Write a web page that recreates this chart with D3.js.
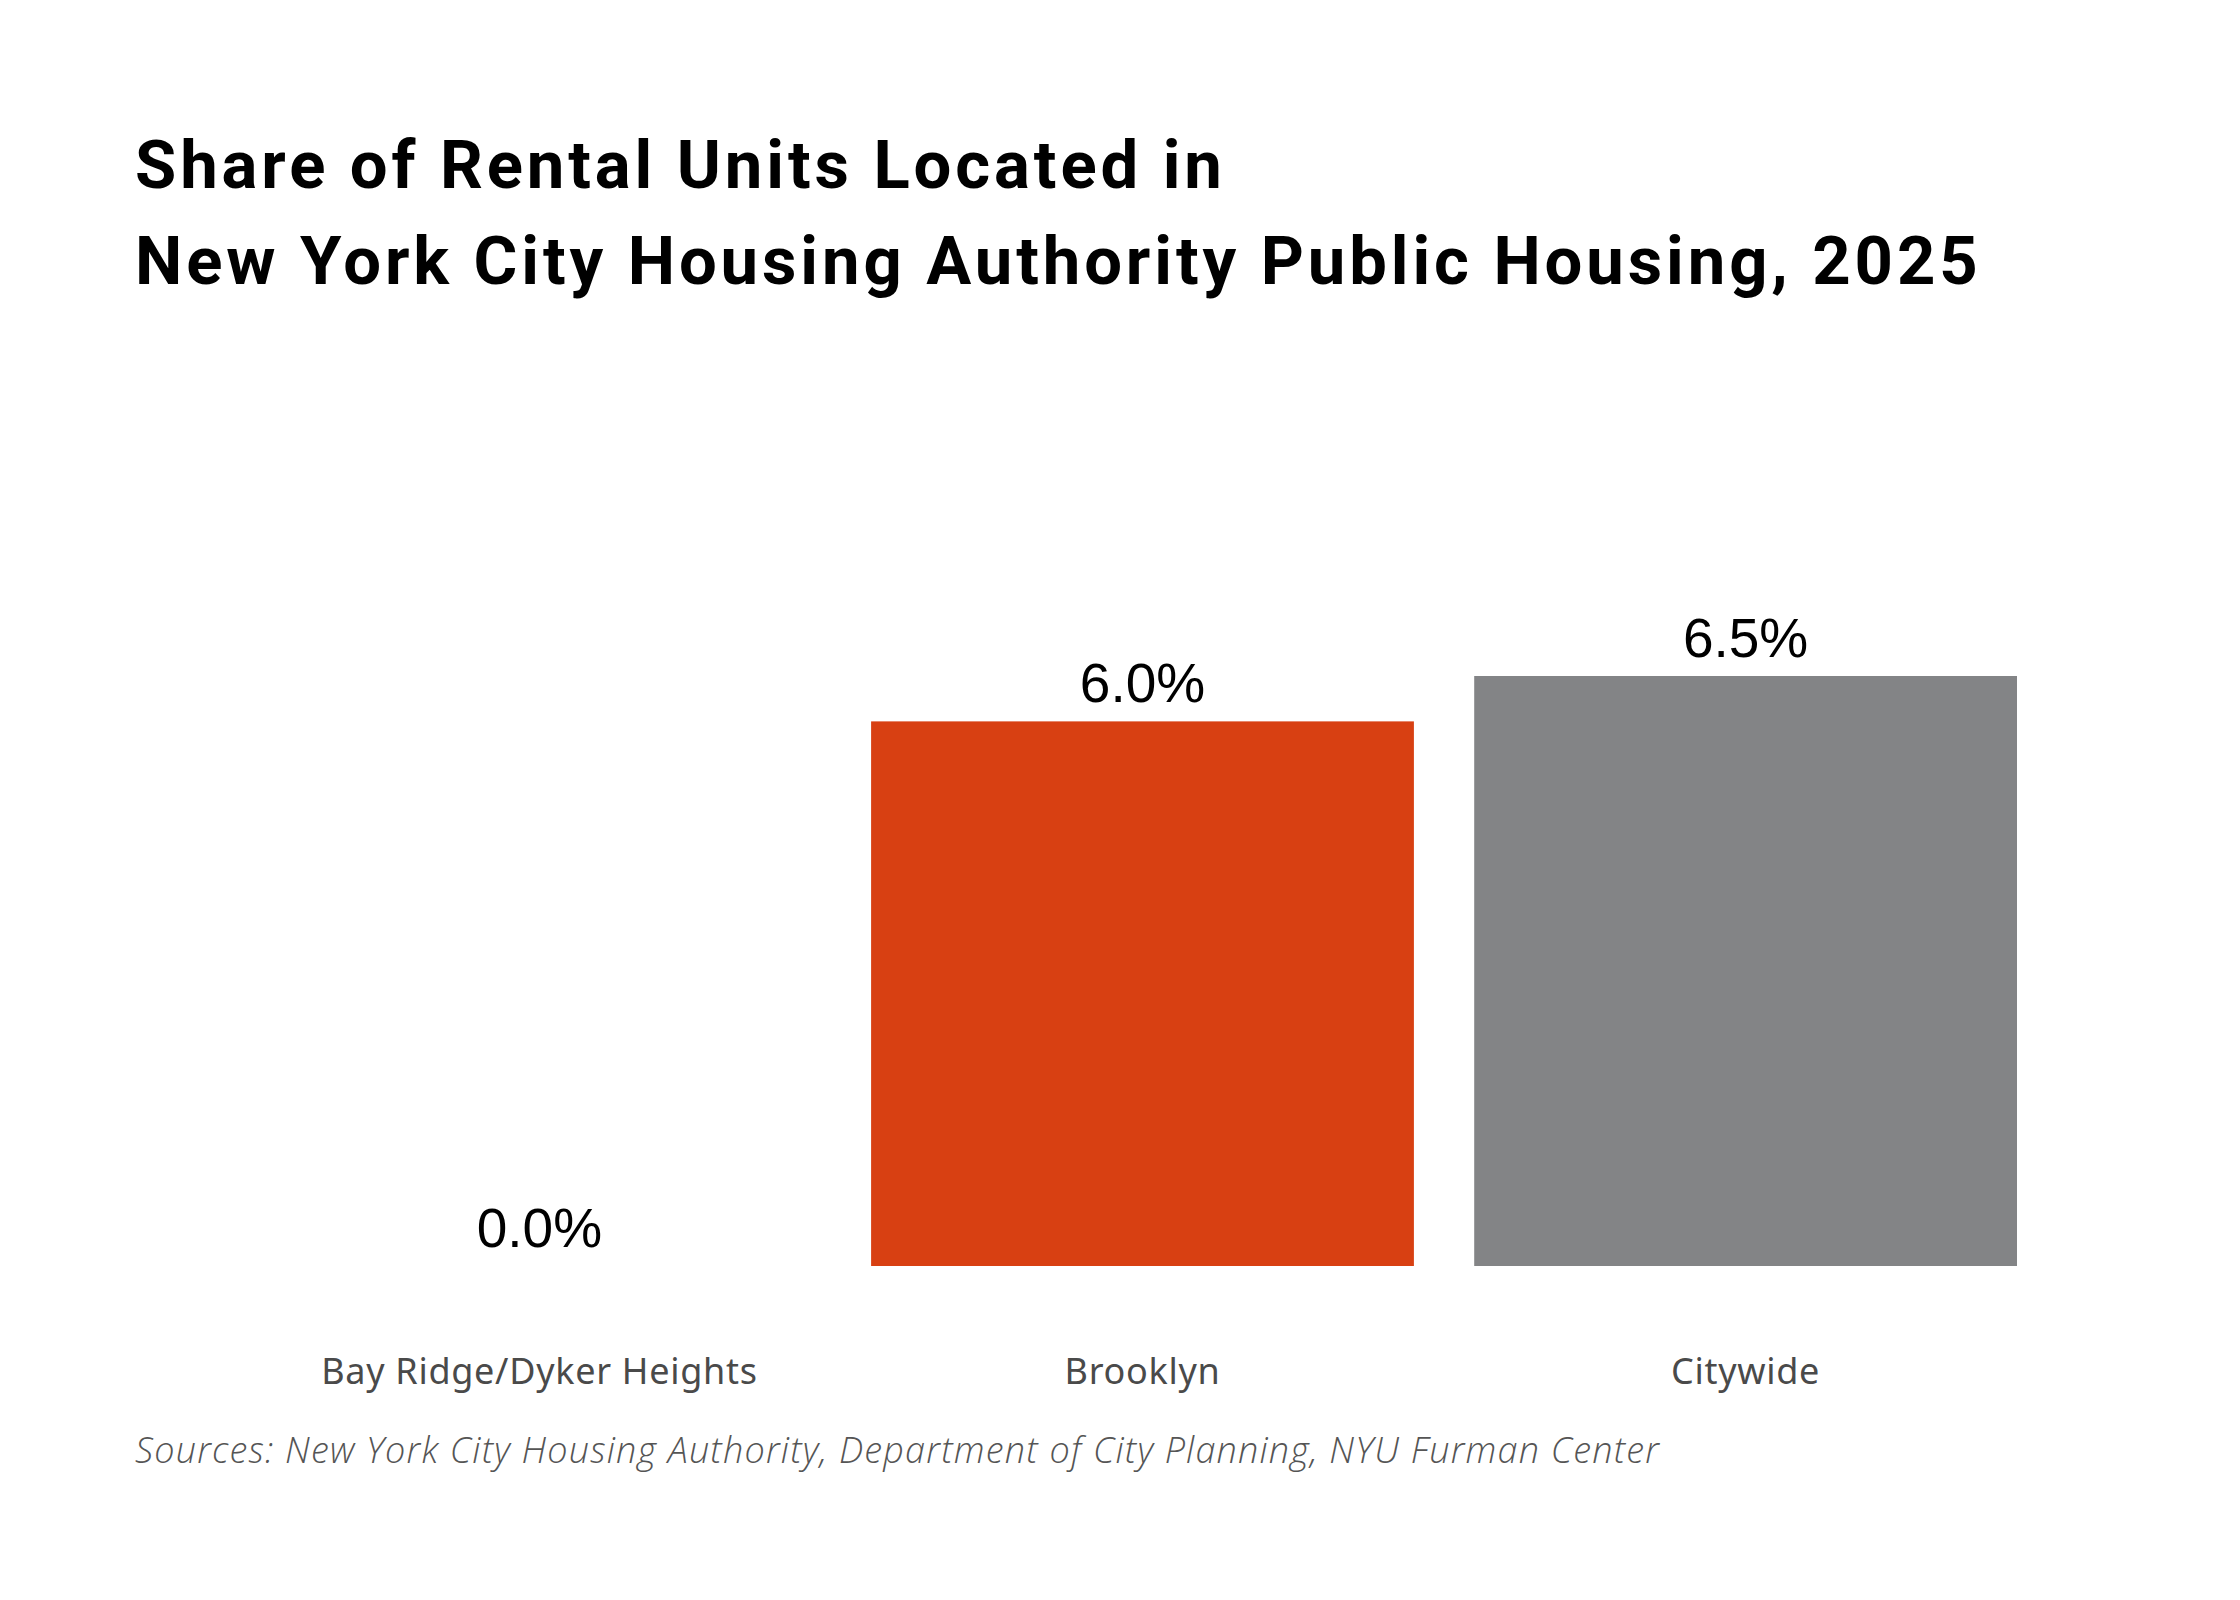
<!DOCTYPE html>
<html>
<head>
<meta charset="utf-8">
<script src="https://cdn.jsdelivr.net/npm/d3@7"></script>
<style>
  body { margin: 0; background: #fff; }
</style>
</head>
<body>
<div id="figure"></div>
<script>
const width = 2240,
      height = 1600;

// Data.
const categories = ["Bay Ridge/Dyker Heights", "Brooklyn", "Citywide"];
const values = [0.0, 6.0, 6.5];
const barColors = ["#d84012", "#d84012", "#838486"];
const titleLines = [
    "Share of Rental Units Located in",
    "New York City Housing Authority Public Housing, 2025"
];
const sourceText = "Sources: New York City Housing Authority, Department of City Planning, NYU Furman Center";

const svg = d3.select("#figure").append("svg")
    .attr("width", width)
    .attr("height", height);

svg.append("rect")
    .attr("width", width)
    .attr("height", height)
    .attr("fill", "#fff");

// Scales.
const xscale = d3.scaleBand()
    .domain(categories)
    .range([268, 2017])
    .paddingInner(0.1)
    .paddingOuter(0);

const yscale = d3.scaleLinear()
    .domain([0, 6.5])
    .range([1266, 676]);

// Title.
svg.append("g")
    .selectAll("text")
    .data(titleLines)
    .join("text")
        .attr("x", 135)
        .attr("y", (d, i) => 188 + i * 96)
        .attr("font-family", "Roboto, sans-serif")
        .attr("font-weight", 700)
        .attr("font-size", 67)
        .attr("letter-spacing", 3.9)
        .attr("fill", "#000")
        .text(d => d);

// Bars.
svg.append("g")
    .selectAll("rect")
    .data(values)
    .join("rect")
        .attr("x", (d, i) => xscale(categories[i]))
        .attr("y", d => yscale(d))
        .attr("width", xscale.bandwidth())
        .attr("height", d => yscale(0) - yscale(d))
        .attr("fill", (d, i) => barColors[i]);

// Value labels.
svg.append("g")
    .selectAll("text")
    .data(values)
    .join("text")
        .attr("x", (d, i) => xscale(categories[i]) + xscale.bandwidth() / 2)
        .attr("y", d => yscale(d) - 19)
        .attr("text-anchor", "middle")
        .attr("font-family", "'Liberation Sans', Arial, sans-serif")
        .attr("font-size", 55)
        .attr("fill", "#000")
        .text(d => d3.format(".1f")(d) + "%");

// Category axis, no line or ticks.
svg.append("g")
    .attr("transform", `translate(0,${yscale(0)})`)
    .call(d3.axisBottom(xscale).tickSize(0))
    .call(g => g.select(".domain").remove())
    .call(g => g.selectAll("text")
        .attr("font-family", "'Noto Sans', sans-serif")
        .attr("font-size", 36)
        .attr("letter-spacing", 0.7)
        .attr("fill", "#4a4a4a")
        .attr("dy", null)
        .attr("y", 118));

// Source note.
svg.append("text")
    .attr("x", 135)
    .attr("y", 1463)
    .attr("font-family", "'Open Sans', sans-serif")
    .attr("font-style", "italic")
    .attr("font-weight", 300)
    .attr("font-size", 36)
    .attr("letter-spacing", 1.2)
    .attr("fill", "#555")
    .text(sourceText);
</script>
</body>
</html>
